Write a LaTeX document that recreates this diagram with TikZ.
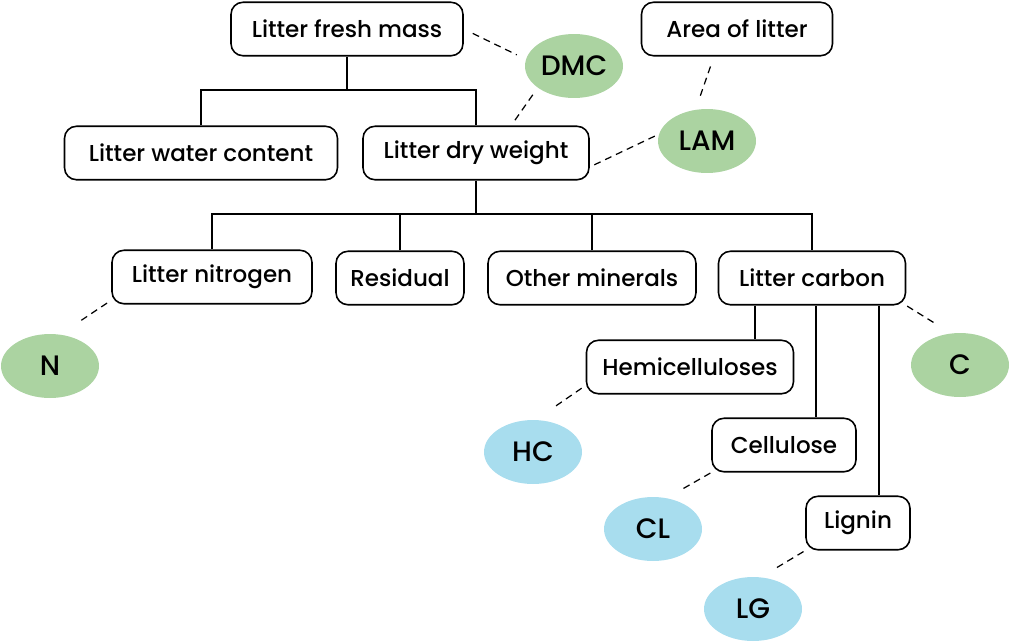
\documentclass[tikz,border=0pt]{standalone}
\usepackage{fontspec}
\setmainfont{Poppins Medium}
\usetikzlibrary{calc, shapes.geometric}
\definecolor{traitgreen}{RGB}{171,211,161}
\definecolor{traitblue}{RGB}{168,221,238}

\begin{document}
\begin{tikzpicture}[x = 0.02cm, y = -0.02cm,
		box/.style = {draw, line width = 0.9pt, rounded corners = 0.24cm, minimum height = 1.07cm, inner sep = 0pt, font = \fontsize{13.1}{15}\selectfont},
		trait/.style = {ellipse, minimum width = 1.96cm, minimum height = 1.28cm, inner sep = 0pt, font = \fontsize{16}{18}\selectfont},
		link/.style = {line width = 0.9pt},
		dashlink/.style = {line width = 0.7pt, dash pattern = on 0.14cm off 0.1cm}]
			\useasboundingbox (0, 0) rectangle (1010, 643);
			
			\node [box, minimum width = 4.64cm] (fresh) at (347, 29) {Litter fresh mass};
			\node [box, minimum width = 3.82cm] (area) at (737, 29) {Area of litter};
			\node [box, minimum width = 5.46cm] (water) at (201, 153) {Litter water content};
			\node [box, minimum width = 4.52cm] (dry) at (476, 153) {Litter dry weight};
			
			\node [box, minimum width = 4.00cm] (nitrogen) at (212, 277) {Litter nitrogen};
			\node [box, minimum width = 2.56cm] (residual) at (400, 278) {Residual};
			\node [box, minimum width = 4.16cm] (minerals) at (592, 278) {Other minerals};
			\node [box, minimum width = 3.74cm] (carbon) at (812, 278) {Litter carbon};
			
			\node [box, minimum width = 4.14cm] (hemi) at (690, 367) {Hemicelluloses};
			\node [box, minimum width = 2.88cm] (cellulose) at (784, 445) {Cellulose};
			\node [box, minimum width = 2.08cm] (lignin) at (858, 523) {Lignin};
			
			\node [trait, fill = traitgreen] (DMC) at (574, 66) {DMC};
			\node [trait, fill = traitgreen] (LAM) at (707, 141) {LAM};
			\node [trait, fill = traitgreen] (N) at (50, 366) {N};
			\node [trait, fill = traitgreen] (C) at (960, 365) {C};
			\node [trait, fill = traitblue] (HC) at (533, 452) {HC};
			\node [trait, fill = traitblue] (CL) at (653, 529) {CL};
			\node [trait, fill = traitblue] (LG) at (753, 609) {LG};
			
			\coordinate (j1) at (347, 90);
			\coordinate (j2) at (476, 214);
			\draw [link] (fresh.south) -- (j1);
			\draw [link] (water.north) |- (j1) -| (dry.north);
			\draw [link] (dry.south) -- (j2);
			\draw [link] (nitrogen.north) |- (j2) -| (carbon.north);
			\draw [link] (residual.north) -- (residual.north |- j2);
			\draw [link] (minerals.north) -- (minerals.north |- j2);
			
			\coordinate (c1) at (755, 0);
			\coordinate (c2) at (816, 0);
			\coordinate (c3) at (879, 0);
			\draw [link] (carbon.south -| c1) -- (hemi.north -| c1);
			\draw [link] (carbon.south -| c2) -- (cellulose.north -| c2);
			\draw [link] (carbon.south -| c3) -- (lignin.north -| c3);
			
			\draw [dashlink, shorten <= 0.2cm, shorten >= 0.2cm] (fresh.east) -- (DMC.172);
			\draw [dashlink, shorten <= 0.17cm, shorten >= 0.05cm] (DMC.211) -- (dry.38);
			\draw [dashlink, shorten <= 0.21cm, shorten >= 0.25cm] (area.230) -- (LAM.110);
			\draw [dashlink, shorten <= 0.1cm, shorten >= 0.06cm] (dry.-7) -- (LAM.172);
			\draw [dashlink, shorten <= 0.1cm, shorten >= 0.48cm] (nitrogen.193) -- (N.72);
			\draw [dashlink, shorten <= 0.02cm, shorten >= 0.36cm] (carbon.south east) -- (C.106);
			\draw [dashlink, shorten <= 0.1cm, shorten >= 0.43cm] (hemi.190) -- (HC.85);
			\draw [dashlink, shorten <= 0.02cm, shorten >= 0.3cm] (cellulose.south west) -- (CL.66);
			\draw [dashlink, shorten <= 0.04cm, shorten >= 0.32cm] (lignin.south west) -- (LG.76);
			
		\end{tikzpicture}
\end{document}
